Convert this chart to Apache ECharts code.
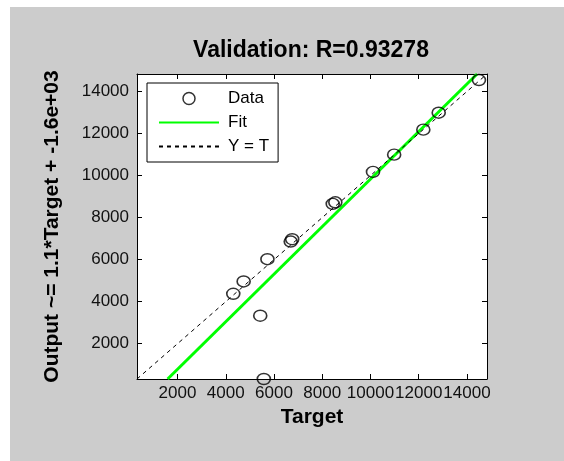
<!DOCTYPE html>
<html>
<head>
<meta charset="utf-8">
<script src="https://cdn.jsdelivr.net/npm/echarts@6/dist/echarts.min.js"></script>
<style>
  html, body { margin: 0; padding: 0; background: #fff; }
  #main { position: absolute; left: 10px; top: 7px; width: 554px; height: 454px; background: #cccccc; }
</style>
</head>
<body>
<div id="main"></div>
<script>
// values
var targets = [4311, 4741, 5429, 5578, 5727, 6692, 6754, 8435, 8542, 10104, 10981, 12190, 12828, 14497];
var outputs = [4375, 4960, 3330, 320, 6019, 6860, 6969, 8651, 8727, 10171, 10993, 12181, 12988, 14542];
var axisMin = 320;
var axisMax = 14830;
var tickValues = [2000, 4000, 6000, 8000, 10000, 12000, 14000];
// fit line end points (Output ~= 1.1*Target - 1.6e3)
var fitX = [1590, 14420];
var fitY = [320, 14830];
// Y = T reference line
var identX = [axisMin, axisMax];
var identY = [axisMin, axisMax];

var font = 'Liberation Sans, Arial, sans-serif';

function pairs(xs, ys) {
    return xs.map(function (x, i) { return [x, ys[i]]; });
}

var myChart = echarts.init(document.getElementById('main'));

// common axis pieces
function axisBase(pos, showLabel) {
    return {
        type: 'value',
        position: pos,
        min: axisMin,
        max: axisMax,
        axisLine: { show: true, onZero: false, lineStyle: { color: '#000', width: 1 } },
        axisTick: { show: true, inside: true, length: 5, customValues: tickValues, lineStyle: { color: '#000' } },
        axisLabel: {
            show: showLabel,
            customValues: tickValues,
            hideOverlap: false,
            showMinLabel: true,
            showMaxLabel: true,
            formatter: function (v) { return String(v); },
            color: '#111',
            fontSize: 17,
            fontFamily: font
        },
        splitLine: { show: false }
    };
}

var xBottom = axisBase('bottom', true);
xBottom.name = 'Target';
xBottom.nameLocation = 'middle';
xBottom.nameGap = 27;
xBottom.nameTextStyle = { fontSize: 21, fontWeight: 'bold', color: '#000', fontFamily: font };
xBottom.axisLabel.margin = 6;

var yLeft = axisBase('left', true);
yLeft.name = 'Output ~= 1.1*Target + -1.6e+03';
yLeft.nameLocation = 'middle';
yLeft.nameGap = 74;
yLeft.nameTextStyle = { fontSize: 21, fontWeight: 'bold', color: '#000', fontFamily: font };
yLeft.axisLabel.margin = 8;

myChart.setOption({
    animation: false,
    title: {
        text: 'Validation: R=0.93278',
        left: 301,
        top: 32,
        padding: 0,
        textAlign: 'center',
        textStyle: { fontSize: 23, fontWeight: 'bold', color: '#000', fontFamily: font }
    },
    grid: {
        left: 127,
        right: 77,
        top: 67,
        bottom: 82,
        show: true,
        backgroundColor: '#fff',
        borderWidth: 0
    },
    legend: {
        orient: 'vertical',
        left: 137,
        top: 76,
        padding: [7, 9, 7, 11],
        itemWidth: 60,
        itemHeight: 12,
        itemGap: 7,
        backgroundColor: '#fff',
        borderColor: '#000',
        borderWidth: 1,
        borderRadius: 0,
        textStyle: { fontSize: 17, color: '#000', fontFamily: font, padding: [0, 0, 0, 4] },
        data: [
            { name: 'Data', icon: 'circle', itemStyle: { color: 'rgba(0,0,0,0)', borderColor: '#000', borderWidth: 1.5 } },
            { name: 'Fit', itemStyle: { opacity: 0 } },
            { name: 'Y = T', itemStyle: { opacity: 0 } }
        ]
    },
    xAxis: [xBottom, axisBase('top', false)],
    yAxis: [yLeft, axisBase('right', false)],
    series: [
        {
            name: 'Data',
            type: 'scatter',
            symbol: 'circle',
            symbolSize: [13, 11],
            itemStyle: { color: 'rgba(0,0,0,0)', borderColor: '#000', borderWidth: 1.5 },
            data: pairs(targets, outputs),
            z: 3
        },
        {
            name: 'Fit',
            type: 'line',
            symbol: 'none',
            lineStyle: { color: '#00ff00', width: 3 },
            itemStyle: { color: '#00ff00' },
            data: pairs(fitX, fitY),
            z: 2
        },
        {
            name: 'Y = T',
            type: 'line',
            symbol: 'none',
            lineStyle: { color: '#000', width: 1, type: [4, 4] },
            itemStyle: { color: '#000' },
            data: pairs(identX, identY),
            z: 2
        }
    ]
});
</script>
</body>
</html>
